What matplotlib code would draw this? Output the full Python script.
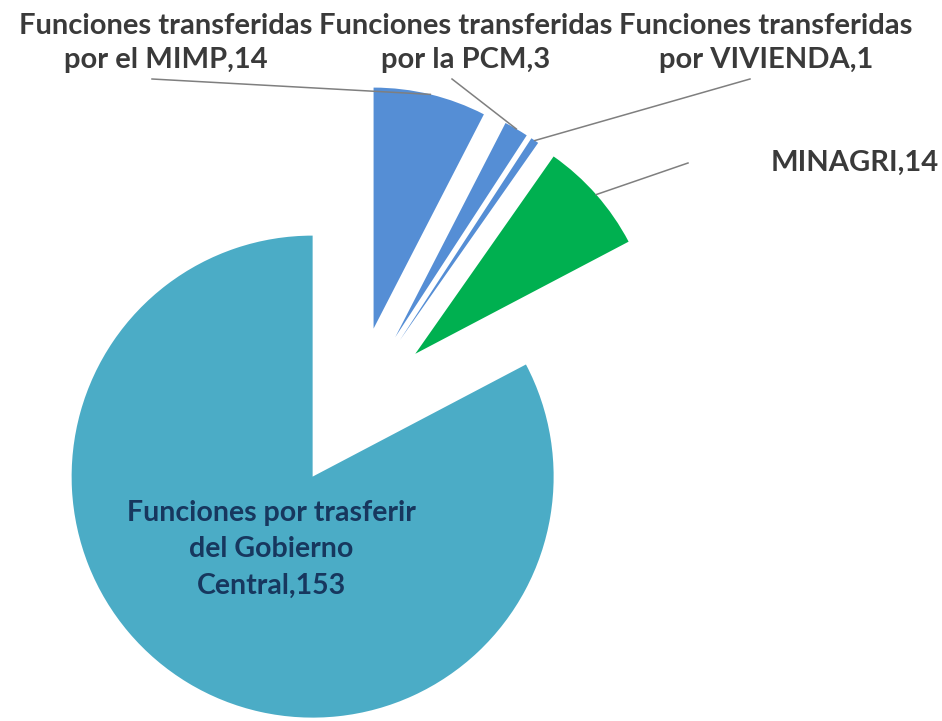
import numpy as np
import matplotlib.pyplot as plt

# Datos del gráfico
categorias = [
    "Funciones transferidas\npor el MIMP",
    "Funciones transferidas\npor la PCM",
    "Funciones transferidas\npor VIVIENDA",
    "MINAGRI",
    "Funciones por trasferir\ndel Gobierno\nCentral",
]
valores = [14, 3, 1, 14, 153]
colores = ["#558ED5", "#558ED5", "#558ED5", "#00B050", "#4BACC6"]

plt.rcParams["font.family"] = ["Lato", "DejaVu Sans"]

W, H = 942, 721
CX, CY, R = 354.5, 407.3, 241.0   # centro y radio del pastel en píxeles


def px(x, y):
    # píxeles de la imagen -> coordenadas de datos
    return (x - CX) / R, (CY - y) / R


fig = plt.figure(figsize=(W / 100, H / 100), dpi=100)
ax = fig.add_axes([0, 0, 1, 1])

wedges, _ = ax.pie(valores, colors=colores, startangle=90, counterclock=False,
                   explode=[0.336] * len(valores), radius=1,
                   wedgeprops=dict(linewidth=0))

ax.set_xlim(-CX / R, (W - CX) / R)
ax.set_ylim(-(H - CY) / R, CY / R)
ax.set_aspect("equal")
ax.axis("off")

# posiciones de las etiquetas (píxeles) y origen de las líneas guía
pos_etiquetas = [(166, 43), (466, 43), (766, 43), (855, 163), (271, 549)]
inicio_lineas = [(152, 79), (452, 79), (750, 79), (688, 163), None]

for w, cat, val, pos, ini in zip(wedges, categorias, valores, pos_etiquetas, inicio_lineas):
    texto = f"{cat},{val}"
    if ini is None:
        color, esp, tam = "#17375E", 1.5, 20.5
    else:
        color, esp, tam = "#3A3A3A", 1.38, 21
    ax.text(*px(*pos), texto, ha="center", va="center", fontsize=tam,
            fontweight="bold", color=color, linespacing=esp)
    if ini is not None:
        mid = np.deg2rad((w.theta1 + w.theta2) / 2)
        ex = w.center[0] + w.r * np.cos(mid)
        ey = w.center[1] + w.r * np.sin(mid)
        x0, y0 = px(*ini)
        ax.plot([x0, ex], [y0, ey], color="#7F7F7F", linewidth=1.1)

fig.savefig("out.png", dpi=100)
